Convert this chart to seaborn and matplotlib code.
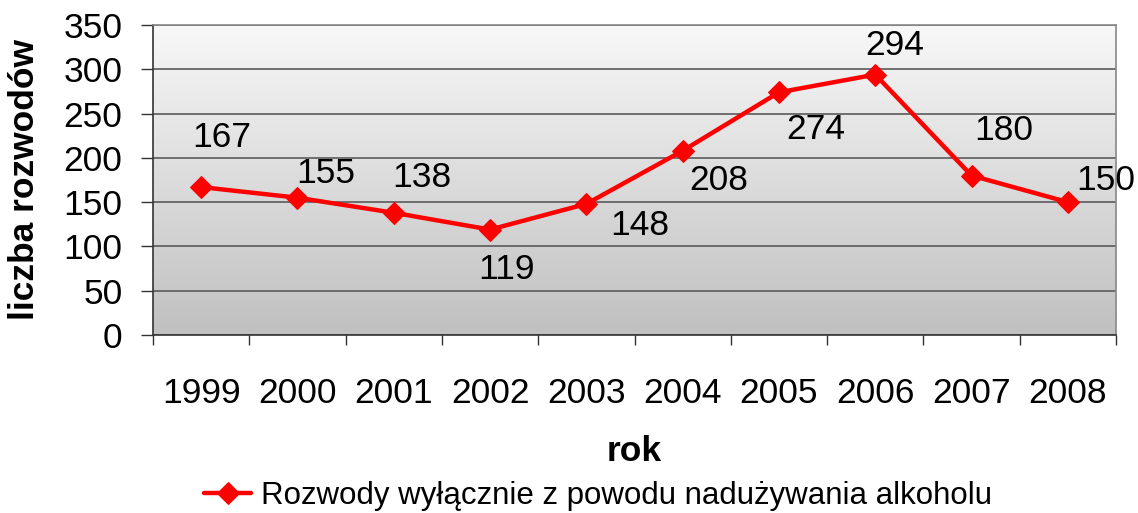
import numpy as np
import pandas as pd
import matplotlib
matplotlib.use("Agg")
import matplotlib.pyplot as plt
import seaborn as sns
from matplotlib.colors import LinearSegmentedColormap

years = ["1999", "2000", "2001", "2002", "2003", "2004", "2005", "2006", "2007", "2008"]
values = [167, 155, 138, 119, 148, 208, 274, 294, 180, 150]
series_name = "Rozwody wyłącznie z powodu nadużywania alkoholu"
y_ticks = [0, 50, 100, 150, 200, 250, 300, 350]

# label offsets (pixels) relative to each point: style only
label_dx = [21, 28, 28, 16, 53, 36, 37, 19, 32, 38]
label_dy = [50, 24, 35, -40, -22, -30, -37, 29, 45, 22]

sns.set_theme(style="white")
plt.rcParams['font.family'] = ['Liberation Sans', 'DejaVu Sans']

FS = 25.5
fig = plt.figure(figsize=(11.38, 5.13), dpi=100)
ax = fig.add_axes([153/1138, 1-335/513, (1116-153)/1138, (335-25)/513])

df = pd.DataFrame({"rok": years, "val": values})
sns.lineplot(data=df, x="rok", y="val", ax=ax, color="#ff0000", linewidth=3.2,
             marker="D", markersize=11.5, markeredgecolor="#ff0000", zorder=5,
             label=series_name, legend=False)

# gradient background (light at top, darker at bottom)
grad = np.linspace(0, 1, 256).reshape(-1, 1)
cmap = LinearSegmentedColormap.from_list("g", ["#f8f8f8", "#c0c0c0"])
ax.imshow(grad, cmap=cmap, aspect="auto", origin="upper", extent=[0, 1, 0, 1],
          transform=ax.transAxes, zorder=0)

ax.set_xlim(-0.5, len(years) - 0.5)
ax.set_ylim(0, 350)
ax.set_yticks(y_ticks)
for yt in y_ticks:
    ax.axhline(yt, color="#5a5a5a", linewidth=1.2, zorder=1)

ax.tick_params(axis="y", which="major", length=9, width=1, color="#333333",
               labelsize=FS, pad=13, left=True, labelcolor="black")
ax.tick_params(axis="x", which="major", length=0, labelsize=FS, pad=30, labelcolor="black")
ax.set_xticks(np.arange(-0.5, len(years) + 0.5, 1), minor=True)
ax.tick_params(axis="x", which="minor", length=7, width=1, color="#333333", bottom=True)

for s in ["left", "bottom"]:
    ax.spines[s].set_color("#333333")
    ax.spines[s].set_linewidth(1.2)
for s in ["top", "right"]:
    ax.spines[s].set_color("#888888")
    ax.spines[s].set_linewidth(1.2)

ax.set_ylabel("liczba rozwodów", fontsize=25.5, fontweight="bold", labelpad=16, color="black")
ax.set_xlabel("rok", fontsize=25.5, fontweight="bold", labelpad=18, color="black")

for i, v in enumerate(values):
    ax.annotate(str(v), (i, v), xytext=(label_dx[i]*0.72, label_dy[i]*0.72),
                textcoords="offset points", ha="center", va="center",
                fontsize=FS, color="black", zorder=6, annotation_clip=False)

handles, labels = ax.get_legend_handles_labels()
leg = fig.legend(handles, labels, loc="center", bbox_to_anchor=(598/1138, 1-496/513),
                 frameon=False, fontsize=22.5, handlelength=1.5, handletextpad=0.3,
                 borderaxespad=0)
for t in leg.get_texts():
    t.set_color("black")

fig.savefig("out.png", dpi=100)
